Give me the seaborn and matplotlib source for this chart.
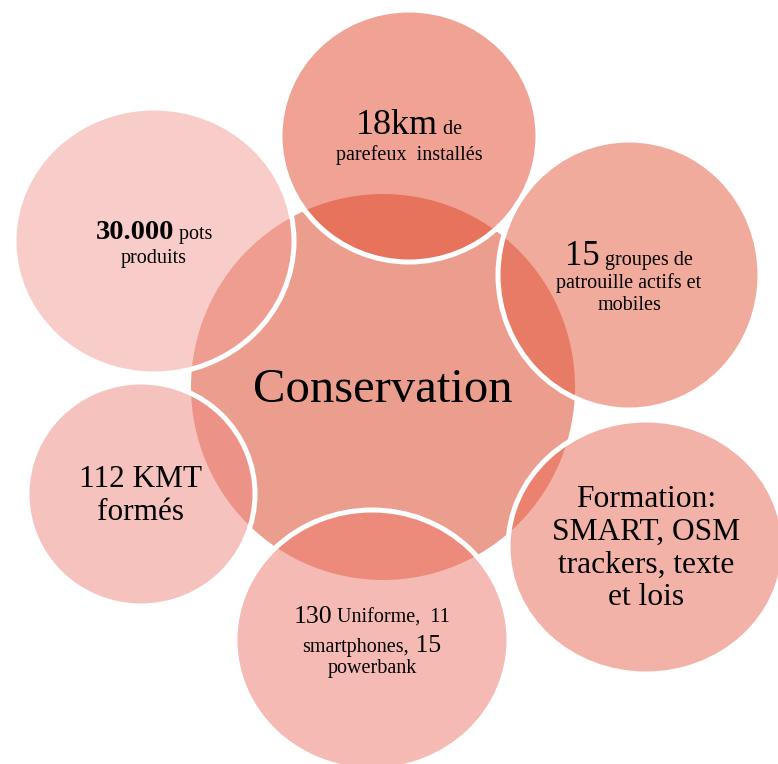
import matplotlib
matplotlib.use("Agg")
import matplotlib.pyplot as plt
from matplotlib.patches import Ellipse
import seaborn as sns

# centre bubble
center_label = "Conservation"
center_xy = (383, 387)
center_r = (192, 193)
center_color = "#EC9E8E"

# satellite bubbles, clockwise from the top
sat_x = [409, 629, 646, 372, 141, 154]
sat_y = [136, 275, 547, 640, 494, 241]
sat_rx = [129, 131, 138, 137, 114, 140]
sat_ry = [126, 135, 127, 130, 112, 133]
sat_colors = ["#E3492D", "#E5593D", "#E96751", "#ED776B", "#EF877F", "#F39D95"]

# each line = list of (text, fontsize, bold), plus the baseline y of each line
sat_lines = [
    [[("18km", 26, False), (" de", 14.5, False)],
     [("parefeux  installés", 14.5, False)]],
    [[("15", 25, False), (" groupes de", 14.5, False)],
     [("patrouille actifs et", 14.5, False)],
     [("mobiles", 14.5, False)]],
    [[("Formation:", 22.7, False)],
     [("SMART, OSM", 22.7, False)],
     [("trackers, texte", 22.7, False)],
     [("et lois", 22.7, False)]],
    [[("130", 18.5, False), (" Uniforme,  11", 14.5, False)],
     [("smartphones,", 14.5, False), (" 15", 18.5, False)],
     [("powerbank", 14.5, False)]],
    [[("112 KMT", 22.5, False)],
     [("formés", 22.5, False)]],
    [[("30.000", 20.5, True), (" pots", 14.5, False)],
     [("produits", 14.5, False)]],
]
sat_baselines = [
    [134, 160],
    [265, 288, 310],
    [507, 540, 573, 605],
    [623, 652, 673],
    [487, 520],
    [239, 263],
]

sns.set_theme(style="white")
plt.rcParams['font.family'] = ['Liberation Serif', 'DejaVu Serif']

fig = plt.figure(figsize=(7.78, 7.64), dpi=100)
ax = fig.add_axes([0, 0, 1, 1])
ax.set_xlim(0, 778)
ax.set_ylim(764, 0)
ax.axis("off")

ax.add_patch(Ellipse(center_xy, 2 * center_r[0], 2 * center_r[1],
                     facecolor=center_color, edgecolor="none", zorder=1))

for i in range(len(sat_x)):
    rgba = matplotlib.colors.to_rgba(sat_colors[i], 0.5)
    ax.add_patch(Ellipse((sat_x[i], sat_y[i]), 2 * sat_rx[i], 2 * sat_ry[i],
                         facecolor=rgba, edgecolor="white", linewidth=3.6, zorder=2))

ax.text(center_xy[0], 402, center_label, fontsize=35, ha="center",
        va="baseline", color="black", zorder=5)

fig.canvas.draw()
renderer = fig.canvas.get_renderer()


def draw_line(cx, base_y, segments):
    # draw pieces left to right, then shift so the line is centred
    pieces = []
    x = 0
    for txt, size, bold in segments:
        t = ax.text(x, base_y, txt, fontsize=size, ha="left", va="baseline",
                    fontweight="bold" if bold else "normal", color="black", zorder=5)
        w = t.get_window_extent(renderer).width
        pieces.append((t, x))
        x += w
    start = cx - x / 2
    for t, off in pieces:
        t.set_x(start + off)


for i in range(len(sat_x)):
    for segs, by in zip(sat_lines[i], sat_baselines[i]):
        draw_line(sat_x[i], by, segs)

fig.savefig("out.png", dpi=100)
